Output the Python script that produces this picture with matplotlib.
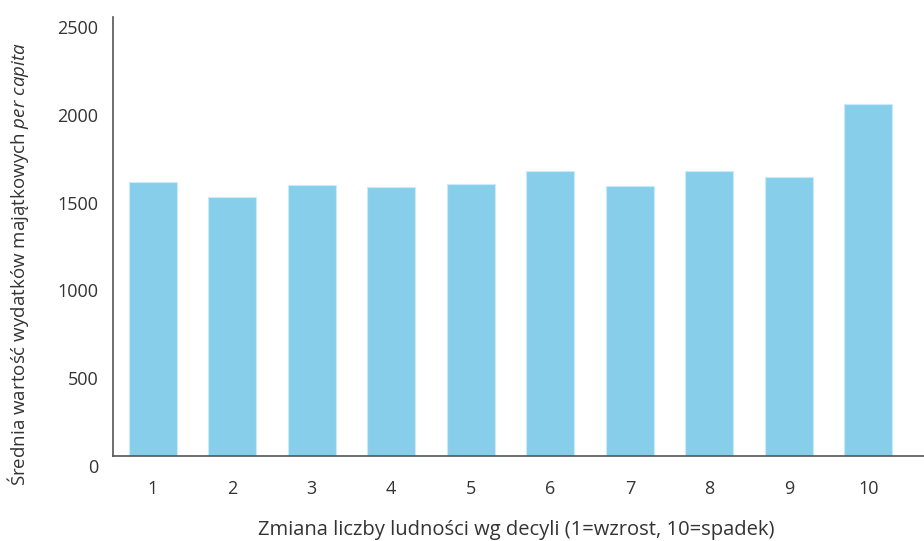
#!/usr/bin/env python3
import matplotlib
matplotlib.use("Agg")
import matplotlib.pyplot as plt
import matplotlib.transforms as mtransforms

# deciles of population change and mean per-capita asset spending
deciles = ["1", "2", "3", "4", "5", "6", "7", "8", "9", "10"]
values = [1558, 1477, 1544, 1530, 1551, 1621, 1540, 1625, 1591, 2004]
yticks = [0, 500, 1000, 1500, 2000, 2500]

plt.rcParams['font.family'] = ['Open Sans', 'DejaVu Sans']
plt.rcParams['mathtext.fontset'] = 'custom'
plt.rcParams['mathtext.rm'] = 'Open Sans'
plt.rcParams['mathtext.it'] = 'Open Sans:italic'

text_col = '#333333'
fig = plt.figure(figsize=(9.24, 5.41), dpi=100)
ax = fig.add_axes([0.1223, 0.1571, 0.8777, 0.8115])

ax.bar(range(len(deciles)), values, width=0.6, color='#87CEEB',
       edgecolor='#c9ebf8', linewidth=0.8)

ax.set_xlim(-0.5, 9.7)
ax.set_ylim(0, 2500)
ax.set_xticks(range(len(deciles)))
ax.set_xticklabels(deciles)
ax.set_yticks(yticks)
ax.set_yticklabels([str(v) for v in yticks])
ax.tick_params(axis='both', length=0, labelsize=13, colors=text_col)
ax.tick_params(axis='x', pad=17)
ax.tick_params(axis='y', pad=10.5)

# labels on the y axis sit a bit below their gridline in the original
offset = mtransforms.ScaledTranslation(0, -10 / 100, fig.dpi_scale_trans)
for lab in ax.get_yticklabels():
    lab.set_transform(lab.get_transform() + offset)

for side in ['top', 'right']:
    ax.spines[side].set_visible(False)
for side in ['left', 'bottom']:
    ax.spines[side].set_color('#555555')
    ax.spines[side].set_linewidth(1.2)

fig.text(516 / 924, 1 - 530 / 541,
         'Zmiana liczby ludności wg decyli (1=wzrost, 10=spadek)',
         fontsize=14.5, color=text_col, ha='center', va='center')
fig.text(18 / 924, 1 - 264 / 541,
         r'Średnia wartość wydatków majątkowych $\it{per\ capita}$',
         fontsize=13.5, color=text_col, ha='center', va='center',
         rotation=90)

fig.savefig('out.png', dpi=100)
